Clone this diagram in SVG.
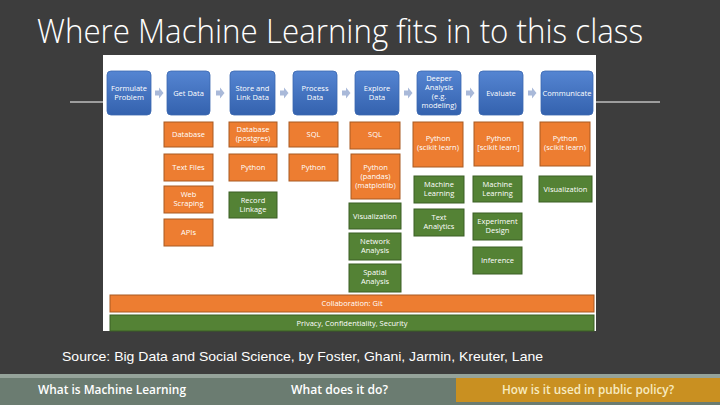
<svg xmlns="http://www.w3.org/2000/svg" width="720" height="405" viewBox="0 0 720 405">
<defs>
<linearGradient id="bg" x1="0" y1="0" x2="0" y2="1">
<stop offset="0" stop-color="#5585D2"/>
<stop offset="1" stop-color="#3462AE"/>
</linearGradient>
</defs>
<style>
.t{font-family:"Open Sans","Liberation Sans",sans-serif;fill:#fff;text-anchor:middle;font-size:7.5px}
.blue{fill:url(#bg);stroke:#3A67B0;stroke-width:0.8}
.or{fill:#ED7D31;stroke:#A85A22;stroke-width:1}
.gr{fill:#548235;stroke:#3A5E25;stroke-width:1}
.ar{fill:#A9B9D9}
.foot{font-family:"Open Sans","Liberation Sans",sans-serif;font-weight:600;font-size:12.5px}
</style>
<rect width="720" height="405" fill="#3D3D3D"/>
<text x="37" y="43" font-family="'Open Sans','Liberation Sans',sans-serif" font-weight="300" font-size="33" fill="#fff" textLength="606" lengthAdjust="spacingAndGlyphs">Where Machine Learning fits in to this class</text>
<line x1="70" y1="102" x2="660" y2="102" stroke="#fff" stroke-width="1"/>
<rect x="103" y="55" width="493" height="276" fill="#fff"/>

<g id="connectors">
<path class="ar" d="M155 90.5h4v-3l4.5 5.5-4.5 5.5v-3h-4z"/>
<path class="ar" d="M216 90.5h4v-3l4.5 5.5-4.5 5.5v-3h-4z"/>
<path class="ar" d="M280 90.5h4v-3l4.5 5.5-4.5 5.5v-3h-4z"/>
<path class="ar" d="M342 90.5h4v-3l4.5 5.5-4.5 5.5v-3h-4z"/>
<path class="ar" d="M404 90.5h4v-3l4.5 5.5-4.5 5.5v-3h-4z"/>
<path class="ar" d="M466 90.5h4v-3l4.5 5.5-4.5 5.5v-3h-4z"/>
<path class="ar" d="M528 90.5h4v-3l4.5 5.5-4.5 5.5v-3h-4z"/>
</g>

<g id="formulate"><rect class="blue" x="107" y="71" width="44" height="44" rx="4"/><text class="t" x="129" y="91">Formulate</text><text class="t" x="129" y="100">Problem</text></g>
<g id="getdata"><rect class="blue" x="167" y="71" width="43" height="44" rx="4"/><text class="t" x="188.5" y="96">Get Data</text></g>
<g id="store"><rect class="blue" x="230" y="71" width="45" height="44" rx="4"/><text class="t" x="252.5" y="91">Store and</text><text class="t" x="252.5" y="100">Link Data</text></g>
<g id="process"><rect class="blue" x="293" y="71" width="44" height="44" rx="4"/><text class="t" x="315" y="91">Process</text><text class="t" x="315" y="100">Data</text></g>
<g id="explore"><rect class="blue" x="355" y="71" width="44" height="44" rx="4"/><text class="t" x="377" y="91">Explore</text><text class="t" x="377" y="100">Data</text></g>
<g id="deeper"><rect class="blue" x="417" y="71" width="44" height="44" rx="4"/><text class="t" x="439" y="81">Deeper</text><text class="t" x="439" y="90">Analysis</text><text class="t" x="439" y="99">(e.g.</text><text class="t" x="439" y="108">modeling)</text></g>
<g id="evaluate"><rect class="blue" x="479" y="71" width="44" height="44" rx="4"/><text class="t" x="501" y="96">Evaluate</text></g>
<g id="communicate"><rect class="blue" x="541" y="71" width="52" height="44" rx="4"/><text class="t" x="567" y="96">Communicate</text></g>

<g id="database"><rect class="or" x="164" y="122" width="49" height="25"/><text class="t" x="188.5" y="137">Database</text></g>
<g id="textfiles"><rect class="or" x="164" y="154" width="49" height="27"/><text class="t" x="188.5" y="170">Text Files</text></g>
<g id="webscraping"><rect class="or" x="164" y="186" width="49" height="27"/><text class="t" x="188.5" y="197">Web</text><text class="t" x="188.5" y="206">Scraping</text></g>
<g id="apis"><rect class="or" x="164" y="219" width="49" height="27"/><text class="t" x="188.5" y="235">APIs</text></g>

<g id="postgres"><rect class="or" x="229" y="122" width="48" height="25"/><text class="t" x="253" y="132">Database</text><text class="t" x="253" y="141">(postgres)</text></g>
<g id="python1"><rect class="or" x="229" y="154" width="48" height="27"/><text class="t" x="253" y="170">Python</text></g>
<g id="recordlinkage"><rect class="gr" x="229" y="192" width="48" height="26"/><text class="t" x="253" y="203">Record</text><text class="t" x="253" y="212">Linkage</text></g>

<g id="sql1"><rect class="or" x="289" y="122" width="49" height="25"/><text class="t" x="313.5" y="137">SQL</text></g>
<g id="python2"><rect class="or" x="289" y="154" width="49" height="27"/><text class="t" x="313.5" y="170">Python</text></g>

<g id="sql2"><rect class="or" x="350" y="122" width="50" height="27"/><text class="t" x="375" y="137">SQL</text></g>
<g id="pandas"><rect class="or" x="351" y="154" width="49" height="45"/><text class="t" x="375.5" y="170">Python</text><text class="t" x="375.5" y="179">(pandas)</text><text class="t" x="375.5" y="188">(matplotlib)</text></g>
<g id="viz1"><rect class="gr" x="349" y="203" width="52" height="26"/><text class="t" x="375" y="219">Visualization</text></g>
<g id="network"><rect class="gr" x="349" y="233" width="52" height="27"/><text class="t" x="375" y="244">Network</text><text class="t" x="375" y="253">Analysis</text></g>
<g id="spatial"><rect class="gr" x="349" y="264" width="52" height="28"/><text class="t" x="375" y="275">Spatial</text><text class="t" x="375" y="284">Analysis</text></g>

<g id="python3"><rect class="or" x="413" y="122" width="50" height="45"/><text class="t" x="438" y="141">Python</text><text class="t" x="438" y="150">(scikit learn)</text></g>
<g id="ml1"><rect class="gr" x="414" y="176" width="50" height="27"/><text class="t" x="439" y="187">Machine</text><text class="t" x="439" y="196">Learning</text></g>
<g id="textanalytics"><rect class="gr" x="414" y="209" width="50" height="27"/><text class="t" x="439" y="220">Text</text><text class="t" x="439" y="229">Analytics</text></g>

<g id="python4"><rect class="or" x="474" y="122" width="49" height="44"/><text class="t" x="498.5" y="141">Python</text><text class="t" x="498.5" y="150">[scikit learn]</text></g>
<g id="ml2"><rect class="gr" x="473" y="176" width="49" height="26"/><text class="t" x="497.5" y="187">Machine</text><text class="t" x="497.5" y="196">Learning</text></g>
<g id="experiment"><rect class="gr" x="473" y="213" width="49" height="27"/><text class="t" x="497.5" y="224">Experiment</text><text class="t" x="497.5" y="233">Design</text></g>
<g id="inference"><rect class="gr" x="473" y="247" width="49" height="27"/><text class="t" x="497.5" y="263">Inference</text></g>

<g id="python5"><rect class="or" x="540" y="122" width="50" height="44"/><text class="t" x="565" y="141">Python</text><text class="t" x="565" y="150">(scikit learn)</text></g>
<g id="viz2"><rect class="gr" x="539" y="176" width="53" height="26"/><text class="t" x="565.5" y="192">Visualization</text></g>

<g id="collab"><rect class="or" x="110" y="295" width="484" height="17"/><text class="t" x="352" y="306">Collaboration: Git</text></g>
<g id="privacy"><rect class="gr" x="110" y="315" width="484" height="16"/><text class="t" x="352" y="326">Privacy, Confidentiality, Security</text></g>

<text x="62" y="361" font-family="'Liberation Sans',sans-serif" font-size="13" fill="#fff" textLength="481" lengthAdjust="spacingAndGlyphs">Source: Big Data and Social Science, by Foster, Ghani, Jarmin, Kreuter, Lane</text>

<rect x="0" y="374" width="720" height="4" fill="#95A39A"/>
<rect x="0" y="378" width="720" height="27" fill="#6B7C71"/>
<rect x="456" y="378" width="264" height="24" fill="#C99021"/>
<text class="foot" x="38" y="394" fill="#fff" textLength="148" lengthAdjust="spacingAndGlyphs">What is Machine Learning</text>
<text class="foot" x="291" y="394" fill="#fff" textLength="97" lengthAdjust="spacingAndGlyphs">What does it do?</text>
<text class="foot" x="502" y="394" fill="#F7EBC0" textLength="172" lengthAdjust="spacingAndGlyphs">How is it used in public policy?</text>
</svg>
